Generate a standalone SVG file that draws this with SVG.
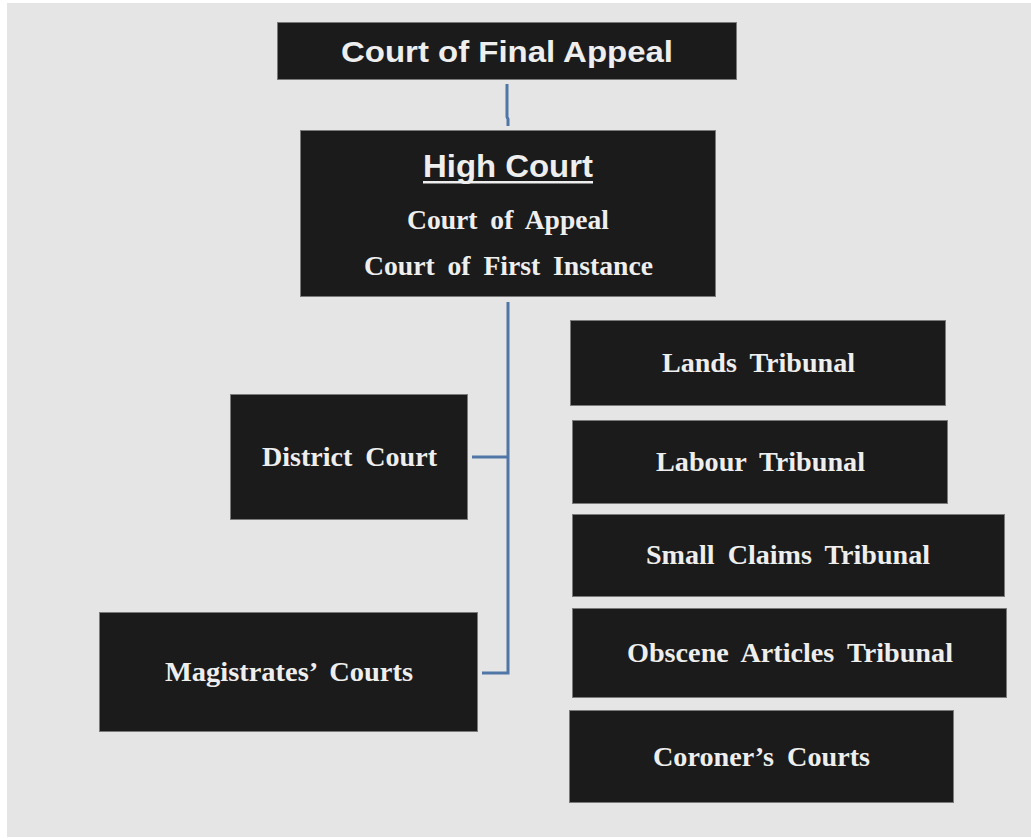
<svg xmlns="http://www.w3.org/2000/svg" width="1031" height="838" viewBox="0 0 1031 838">
<style>
.box{fill:#1b1b1b;stroke:#7a7a7a;stroke-width:1}
.sans{font-family:"Liberation Sans",Arial,sans-serif;font-weight:bold;fill:#eeeeee;text-anchor:middle}
.serif{font-family:"Liberation Serif","Times New Roman",serif;font-weight:bold;fill:#eeeeee;text-anchor:middle;font-size:28px;word-spacing:6px}
.conn{fill:none;stroke:#4f76a6;stroke-width:3}
</style>
<rect x="0" y="0" width="1031" height="838" fill="#ffffff"/>
<rect x="7" y="3" width="1024" height="834" fill="#e5e5e5"/>
<g id="connectors">
<path class="conn" d="M507,84 V117 L508,119 V126"/>
<path class="conn" d="M508,302 V673 H482"/>
<path class="conn" d="M472,457 H508"/>
</g>
<g id="final-appeal">
<rect class="box" x="277.5" y="22.5" width="459" height="57"/>
<text class="sans" x="507" y="62" font-size="30" textLength="332" lengthAdjust="spacingAndGlyphs">Court of Final Appeal</text>
</g>
<g id="high-court">
<rect class="box" x="300.5" y="130.5" width="415" height="166"/>
<text class="sans" x="508" y="177" font-size="31" textLength="170" lengthAdjust="spacingAndGlyphs">High Court</text>
<rect x="423" y="181" width="170" height="2.5" fill="#eeeeee"/>
<text class="serif" x="508" y="229" textLength="202" lengthAdjust="spacingAndGlyphs">Court of Appeal</text>
<text class="serif" x="508.5" y="275" textLength="289" lengthAdjust="spacingAndGlyphs">Court of First Instance</text>
</g>
<g id="district-court">
<rect class="box" x="230.5" y="394.5" width="237" height="125"/>
<text class="serif" x="349.5" y="466" textLength="175" lengthAdjust="spacingAndGlyphs">District Court</text>
</g>
<g id="magistrates-courts">
<rect class="box" x="99.5" y="612.5" width="378" height="119"/>
<text class="serif" x="289" y="681" textLength="248" lengthAdjust="spacingAndGlyphs">Magistrates’ Courts</text>
</g>
<g id="lands-tribunal">
<rect class="box" x="570.5" y="320.5" width="375" height="85"/>
<text class="serif" x="758.5" y="372" textLength="193" lengthAdjust="spacingAndGlyphs">Lands Tribunal</text>
</g>
<g id="labour-tribunal">
<rect class="box" x="572.5" y="420.5" width="375" height="83"/>
<text class="serif" x="760.5" y="471" textLength="209" lengthAdjust="spacingAndGlyphs">Labour Tribunal</text>
</g>
<g id="small-claims-tribunal">
<rect class="box" x="572.5" y="514.5" width="432" height="82"/>
<text class="serif" x="788" y="564" textLength="284" lengthAdjust="spacingAndGlyphs">Small Claims Tribunal</text>
</g>
<g id="obscene-articles-tribunal">
<rect class="box" x="572.5" y="608.5" width="434" height="89"/>
<text class="serif" x="790" y="662" textLength="326" lengthAdjust="spacingAndGlyphs">Obscene Articles Tribunal</text>
</g>
<g id="coroners-courts">
<rect class="box" x="569.5" y="710.5" width="384" height="92"/>
<text class="serif" x="761.5" y="766" textLength="217" lengthAdjust="spacingAndGlyphs">Coroner’s Courts</text>
</g>
</svg>
